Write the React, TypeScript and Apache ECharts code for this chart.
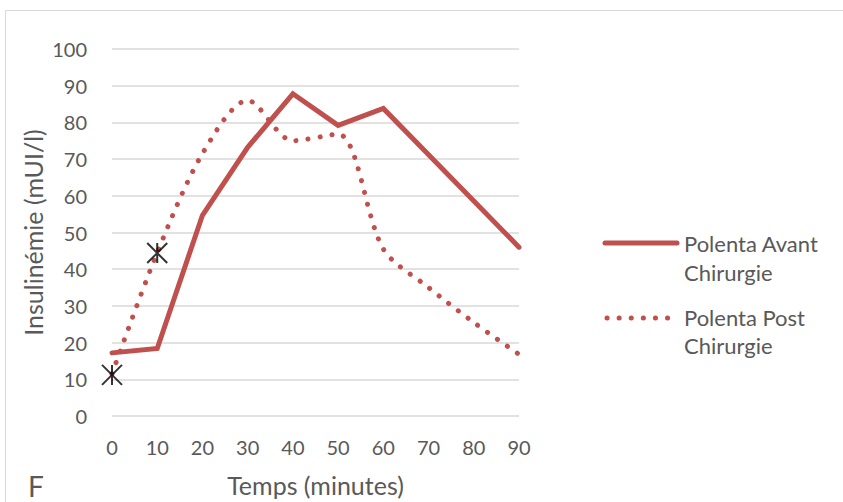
import React, { useEffect, useRef } from "react";
import * as echarts from "echarts";

const xTicks = [0, 10, 20, 30, 40, 50, 60, 70, 80, 90];
const avantX = [0, 10, 20, 30, 40, 50, 60, 90];
const avantY = [17.2, 18.4, 54.7, 73.2, 87.8, 79.2, 83.8, 46];
const postX = [0, 10, 20, 30, 40, 50, 60, 70, 80, 90];
const postY = [11.5, 44.5, 71.5, 86, 75, 76.8, 45.5, 35, 25.5, 16.8];
const markX = [0, 10];
const markY = [11.2, 44.4];
const seriesNames = ["Polenta Avant Chirurgie", "Polenta Post Chirurgie"];

const RED = "#C0504D";
const TXT = "#595959";
const FONT = "Lato, 'Open Sans', sans-serif";

export default function App() {
  const ref = useRef<HTMLDivElement>(null);
  useEffect(() => {
    document.body.style.margin = "0";
    const chart = echarts.init(ref.current!, null, { renderer: "svg" });
    const zip = (xs: number[], ys: number[]) => xs.map((x, i) => [x, ys[i]]);
    chart.setOption({
      animation: false,
      backgroundColor: "#fff",
      textStyle: { fontFamily: FONT },
      grid: { left: 112, right: 324, top: 49, bottom: 83, containLabel: false },
      xAxis: {
        type: "value",
        min: 0,
        max: 90,
        interval: 10,
        axisLine: { show: false },
        axisTick: { show: false },
        splitLine: { show: false },
        axisLabel: {
          color: TXT,
          fontSize: 20,
          fontFamily: FONT,
          margin: 21,
          formatter: (v: number) => (xTicks.includes(v) ? String(v) : ""),
        },
        name: "Temps (minutes)",
        nameLocation: "middle",
        nameGap: 56,
        nameTextStyle: { color: TXT, fontSize: 25, fontFamily: FONT },
      },
      yAxis: {
        type: "value",
        min: 0,
        max: 100,
        interval: 10,
        axisLine: { show: false },
        axisTick: { show: false },
        splitLine: { show: true, lineStyle: { color: "#d9d9d9", width: 1.5 } },
        axisLabel: { color: TXT, fontSize: 20, fontFamily: FONT, margin: 25 },
        name: "Insulinémie (mUI/l)",
        nameLocation: "middle",
        nameGap: 67,
        nameTextStyle: { color: TXT, fontSize: 25, fontFamily: FONT },
      },
      series: [
        {
          name: seriesNames[0],
          type: "line",
          data: zip(avantX, avantY),
          symbol: "none",
          lineStyle: { color: RED, width: 5, cap: "round", join: "miter" },
          z: 3,
        },
        {
          name: seriesNames[1],
          type: "line",
          data: zip(postX, postY),
          symbol: "none",
          smooth: 0.3,
          lineStyle: { color: RED, width: 5, type: [0.1, 12], cap: "round" },
          z: 2,
        },
        {
          name: "marks",
          type: "scatter",
          data: zip(markX, markY),
          symbol: "path://M0,0L20,20M20,0L0,20M10,0L10,20",
          symbolSize: 20,
          itemStyle: { color: "none", borderColor: "#000", borderWidth: 2 },
          z: 5,
        },
      ],
      graphic: [
        {
          type: "rect",
          shape: { x: 5.5, y: 10.5, width: 900, height: 600 },
          style: { fill: "none", stroke: "#d9d9d9", lineWidth: 1 },
          silent: true,
          z: -1,
        },
        {
          type: "text",
          left: 28,
          top: 472,
          style: { text: "F", fill: TXT, fontSize: 28, fontFamily: FONT },
        },
        {
          type: "line",
          shape: { x1: 605, y1: 243, x2: 677, y2: 243 },
          style: { stroke: RED, lineWidth: 5, lineCap: "round" },
        },
        {
          type: "line",
          shape: { x1: 607, y1: 318, x2: 669, y2: 318 },
          style: { stroke: RED, lineWidth: 5, lineCap: "round", lineDash: [0.1, 12] },
        },
        {
          type: "text",
          x: 684,
          y: 243,
          style: { text: "Polenta Avant", fill: TXT, fontSize: 22, fontFamily: FONT, verticalAlign: "middle" },
        },
        {
          type: "text",
          x: 684,
          y: 272,
          style: { text: "Chirurgie", fill: TXT, fontSize: 22, fontFamily: FONT, verticalAlign: "middle" },
        },
        {
          type: "text",
          x: 684,
          y: 317,
          style: { text: "Polenta Post", fill: TXT, fontSize: 22, fontFamily: FONT, verticalAlign: "middle" },
        },
        {
          type: "text",
          x: 684,
          y: 345,
          style: { text: "Chirurgie", fill: TXT, fontSize: 22, fontFamily: FONT, verticalAlign: "middle" },
        },
      ],
    });
    return () => chart.dispose();
  }, []);
  return <div ref={ref} style={{ width: 843, height: 502 }} />;
}
